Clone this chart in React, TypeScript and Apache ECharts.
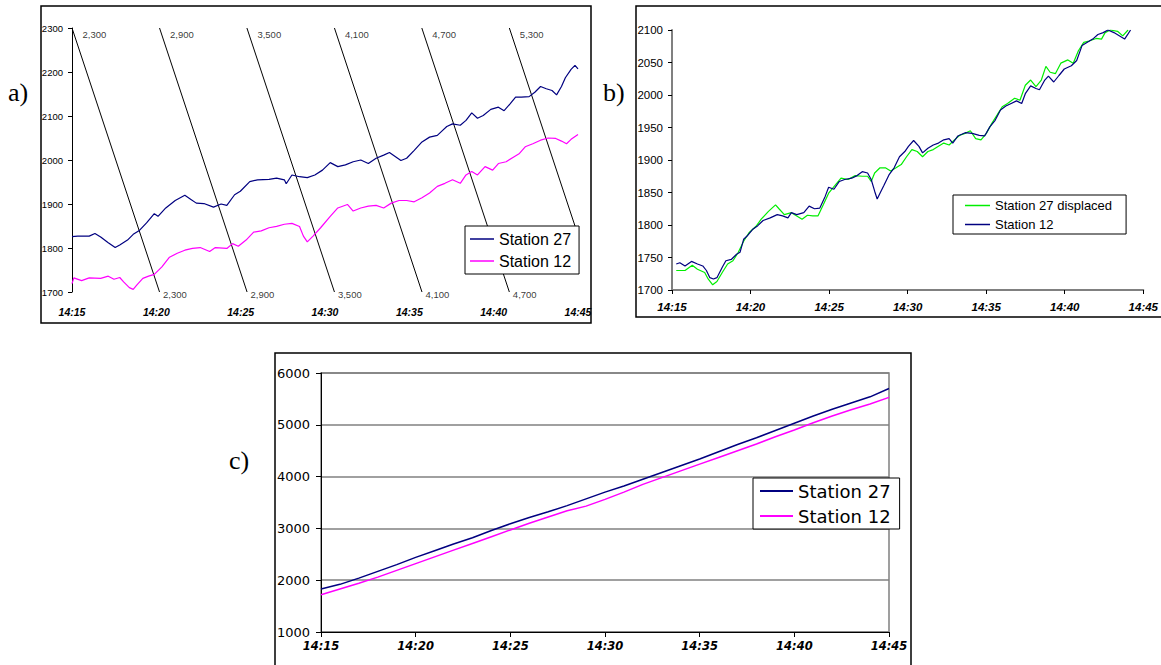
import React, { useEffect, useRef } from 'react';
import * as echarts from 'echarts';

// ---- Panel a: raw values (minutes after 14:15, value) ----
const A_STATION27: [number, number][] = [
  [0, 1826], [0.34, 1827], [1.02, 1827], [1.36, 1833], [1.7, 1825], [2.15, 1812], [2.56, 1801], [2.83, 1807],
  [3.29, 1818], [3.63, 1831], [3.97, 1839], [4.42, 1857], [4.88, 1878], [5.1, 1872], [5.56, 1891], [6.12, 1908],
  [6.69, 1920], [7.03, 1911], [7.37, 1902], [7.82, 1901], [8.39, 1893], [8.84, 1900], [9.18, 1897], [9.64, 1921],
  [9.98, 1929], [10.54, 1951], [11.0, 1955], [11.68, 1956], [12.13, 1959], [12.59, 1955], [12.7, 1946], [13.04, 1966],
  [13.49, 1962], [13.95, 1960], [14.4, 1966], [14.85, 1977], [15.31, 1994], [15.76, 1985], [16.21, 1989], [16.67, 1996],
  [17.12, 2000], [17.57, 1992], [18.03, 2004], [18.48, 2011], [18.82, 2017], [19.16, 2008], [19.5, 1999], [19.84, 2004],
  [20.29, 2022], [20.75, 2041], [21.2, 2052], [21.66, 2056], [21.88, 2064], [22.22, 2076], [22.56, 2082], [23.02, 2079],
  [23.36, 2090], [23.7, 2107], [24.04, 2095], [24.38, 2101], [24.83, 2115], [25.28, 2120], [25.62, 2112], [25.96, 2127],
  [26.3, 2143], [26.64, 2143], [27.1, 2144], [27.44, 2154], [27.78, 2167], [28.12, 2162], [28.46, 2158], [28.73, 2148],
  [29.02, 2167], [29.25, 2187], [29.59, 2206], [29.82, 2215], [30, 2207],
];
const A_STATION12: [number, number][] = [
  [0, 1719], [0.11, 1732], [0.57, 1726], [1.02, 1732], [1.7, 1731], [2.15, 1736], [2.49, 1729], [2.83, 1733],
  [3.06, 1723], [3.4, 1710], [3.63, 1706], [3.85, 1716], [4.2, 1731], [4.54, 1736], [4.88, 1740], [5.33, 1757],
  [5.78, 1779], [6.24, 1788], [6.69, 1795], [7.14, 1799], [7.6, 1801], [8.16, 1792], [8.5, 1801], [9.18, 1799],
  [9.52, 1810], [9.86, 1804], [10.32, 1818], [10.77, 1836], [11.22, 1839], [11.68, 1846], [12.13, 1849], [12.59, 1854],
  [13.04, 1856], [13.49, 1849], [13.72, 1827], [13.95, 1814], [14.29, 1827], [14.74, 1846], [15.31, 1872], [15.76, 1891],
  [16.33, 1899], [16.67, 1884], [17.12, 1891], [17.57, 1895], [18.03, 1897], [18.48, 1891], [18.93, 1902], [19.39, 1908],
  [19.84, 1908], [20.29, 1905], [20.75, 1914], [21.2, 1925], [21.66, 1940], [22.11, 1947], [22.56, 1955], [23.02, 1947],
  [23.36, 1966], [23.7, 1974], [24.04, 1966], [24.49, 1985], [24.94, 1977], [25.28, 1992], [25.74, 1996], [26.19, 2007],
  [26.53, 2015], [26.87, 2030], [27.32, 2037], [27.78, 2045], [28.23, 2050], [28.68, 2049], [29.02, 2043], [29.32, 2037],
  [29.59, 2047], [30, 2058],
];
// diagonal reference lines (start minute at 2300, run in minutes down to 1700)
const DIAG_START = [0, 5.19, 10.37, 15.56, 20.74, 25.93];
const DIAG_RUN = 5.19;
const DIAG_LABELS = ['2,300', '2,900', '3,500', '4,100', '4,700', '5,300'];

// ---- Panel b ----
const B_STATION27_DISPLACED: [number, number][] = [
  [0.27, 1730], [0.83, 1730], [1.29, 1738], [1.62, 1732], [2.08, 1727], [2.3, 1717], [2.59, 1708], [2.86, 1713],
  [3.2, 1727], [3.54, 1740], [3.88, 1745], [4.22, 1758], [4.56, 1775], [4.9, 1788], [5.35, 1798], [5.68, 1809],
  [6.14, 1821], [6.59, 1831], [6.81, 1825], [7.15, 1816], [7.6, 1819], [7.94, 1814], [8.28, 1809], [8.62, 1815],
  [8.96, 1814], [9.29, 1814], [9.63, 1831], [9.97, 1849], [10.31, 1859], [10.76, 1872], [11.21, 1870], [11.66, 1876],
  [12.11, 1875], [12.45, 1875], [12.68, 1867], [12.9, 1880], [13.24, 1888], [13.58, 1888], [13.92, 1883], [14.26, 1888],
  [14.59, 1893], [14.93, 1905], [15.27, 1916], [15.61, 1913], [15.95, 1905], [16.29, 1913], [16.63, 1916], [16.96, 1921],
  [17.3, 1926], [17.64, 1923], [17.98, 1931], [18.32, 1938], [18.66, 1941], [18.99, 1945], [19.33, 1933], [19.67, 1931],
  [20.01, 1941], [20.35, 1956], [20.69, 1969], [21.02, 1982], [21.36, 1987], [21.81, 1995], [22.15, 1992], [22.49, 2015],
  [22.83, 2023], [23.17, 2013], [23.51, 2023], [23.8, 2044], [24.07, 2035], [24.41, 2033], [24.75, 2049], [25.2, 2054],
  [25.54, 2049], [25.87, 2068], [26.21, 2081], [26.55, 2083], [27.0, 2087], [27.34, 2086], [27.57, 2096], [27.9, 2100],
  [28.36, 2098], [28.69, 2091], [29.03, 2100],
];
const B_STATION12: [number, number][] = [
  [0.27, 1740], [0.5, 1742], [0.83, 1737], [1.24, 1744], [1.62, 1740], [1.96, 1737], [2.19, 1730], [2.41, 1719],
  [2.64, 1717], [2.86, 1719], [3.2, 1735], [3.43, 1745], [3.77, 1747], [4.11, 1755], [4.33, 1758], [4.56, 1778],
  [4.78, 1783], [5.12, 1793], [5.46, 1799], [5.8, 1807], [6.25, 1811], [6.7, 1816], [7.04, 1814], [7.38, 1811],
  [7.6, 1819], [7.94, 1816], [8.39, 1819], [8.73, 1829], [9.07, 1825], [9.41, 1826], [9.75, 1844], [9.97, 1858],
  [10.31, 1855], [10.65, 1867], [10.99, 1870], [11.44, 1872], [11.78, 1876], [12.11, 1882], [12.45, 1880], [12.68, 1870],
  [12.9, 1852], [13.06, 1840], [13.24, 1849], [13.47, 1860], [13.81, 1877], [14.14, 1888], [14.48, 1905], [14.82, 1913],
  [15.05, 1921], [15.38, 1930], [15.72, 1921], [15.95, 1911], [16.29, 1918], [16.63, 1923], [16.96, 1926], [17.3, 1931],
  [17.64, 1933], [17.87, 1926], [18.2, 1937], [18.66, 1942], [19.11, 1941], [19.56, 1938], [19.9, 1937], [20.23, 1951],
  [20.57, 1961], [20.91, 1977], [21.25, 1983], [21.59, 1987], [21.93, 1991], [22.26, 1987], [22.49, 2002], [22.83, 2014],
  [23.17, 2010], [23.39, 2008], [23.73, 2023], [23.96, 2029], [24.3, 2020], [24.63, 2030], [24.97, 2040], [25.42, 2045],
  [25.76, 2053], [26.1, 2076], [26.44, 2081], [26.78, 2086], [27.11, 2093], [27.45, 2096], [27.75, 2100], [28.13, 2096],
  [28.47, 2091], [28.81, 2086], [29.03, 2094], [29.19, 2100],
];

// ---- Panel c ----
const C_STATION27: [number, number][] = [
  [0, 1830], [1, 1920], [2, 2040], [3, 2170], [4, 2300], [5, 2440], [6, 2570], [7, 2700], [8, 2820], [9, 2960],
  [10, 3090], [11, 3210], [12, 3320], [13, 3440], [14, 3570], [15, 3700], [16, 3820], [17, 3950], [18, 4080], [19, 4210],
  [20, 4340], [21, 4480], [22, 4620], [23, 4750], [24, 4890], [25, 5030], [26, 5170], [27, 5300], [28, 5420], [29, 5540],
  [30, 5700],
];
const C_STATION12: [number, number][] = [
  [0, 1720], [1, 1830], [2, 1940], [3, 2060], [4, 2190], [5, 2320], [6, 2450], [7, 2580], [8, 2710], [9, 2840],
  [10, 2970], [11, 3100], [12, 3220], [13, 3340], [14, 3430], [15, 3560], [16, 3700], [17, 3850], [18, 3980], [19, 4110],
  [20, 4240], [21, 4370], [22, 4500], [23, 4630], [24, 4770], [25, 4900], [26, 5040], [27, 5170], [28, 5290], [29, 5400],
  [30, 5530],
];

const NAVY = '#000080';
const MAGENTA = '#ff00ff';
const GREEN = '#00ee00';
const SANS = '"Liberation Sans", Arial, sans-serif';
const WIDE = '"DejaVu Sans", sans-serif';

const timeFmt = (v: number) => '14:' + String(15 + v);
const plainFmt = (v: number) => String(v);
const legendFmt = (n: string) => n.split('|')[1];

export default function App() {
  const ref = useRef<HTMLDivElement>(null);
  useEffect(() => {
    document.body.style.margin = '0';
    const chart = echarts.init(ref.current!, undefined, { renderer: 'svg' });
    const diagSeries = DIAG_START.map((t) => ({
      type: 'line', xAxisIndex: 0, yAxisIndex: 0, silent: true, symbol: 'none', z: 1,
      data: [[t, 2300], [t + DIAG_RUN, 1700]],
      lineStyle: { color: '#000', width: 1 },
    }));
    const labelBase = { show: true, fontSize: 9.5, fontFamily: SANS, color: '#000', formatter: (p: any) => p.value[2] };
    const legendBase = {
      orient: 'vertical', icon: 'rect', formatter: legendFmt,
      borderColor: '#000', borderWidth: 1, backgroundColor: '#fff', borderRadius: 0,
    };
    const option: any = {
      animation: false,
      backgroundColor: '#fff',
      graphic: [
        { type: 'rect', silent: true, shape: { x: 41, y: 6, width: 550, height: 317 }, style: { fill: 'none', stroke: '#000', lineWidth: 1.5 } },
        { type: 'rect', silent: true, shape: { x: 636, y: 6, width: 600, height: 311 }, style: { fill: 'none', stroke: '#000', lineWidth: 1.5 } },
        { type: 'rect', silent: true, shape: { x: 275, y: 353, width: 636, height: 400 }, style: { fill: 'none', stroke: '#000', lineWidth: 1.5 } },
        { type: 'text', x: 8, y: 92, style: { text: 'a)', fontSize: 26, fontFamily: '"Liberation Serif", serif', fill: '#000', verticalAlign: 'middle' } },
        { type: 'text', x: 603, y: 92, style: { text: 'b)', fontSize: 26, fontFamily: '"Liberation Serif", serif', fill: '#000', verticalAlign: 'middle' } },
        { type: 'text', x: 229, y: 460, style: { text: 'c)', fontSize: 26, fontFamily: '"Liberation Serif", serif', fill: '#000', verticalAlign: 'middle' } },
      ],
      grid: [
        { left: 72, top: 28, width: 506, height: 264 },
        { left: 672, top: 30, width: 476, height: 260 },
        { left: 321, top: 373, width: 568, height: 259, show: true, borderColor: '#808080', borderWidth: 1.5, backgroundColor: 'transparent' },
      ],
      xAxis: [
        {
          gridIndex: 0, type: 'value', min: 0, max: 30, interval: 5,
          axisLine: { show: false }, axisTick: { show: false }, splitLine: { show: false },
          axisLabel: { formatter: timeFmt, fontSize: 10.5, fontStyle: 'italic', fontWeight: 'bold', fontFamily: SANS, color: '#000', margin: 14 },
        },
        {
          gridIndex: 1, type: 'value', min: 0, max: 30, interval: 5,
          axisLine: { show: true, lineStyle: { color: '#808080', width: 2 } },
          axisTick: { show: true, length: 4, lineStyle: { color: '#000' } }, splitLine: { show: false },
          axisLabel: { formatter: timeFmt, fontSize: 11.5, fontStyle: 'italic', fontWeight: 'bold', fontFamily: SANS, color: '#000', margin: 11 },
        },
        {
          gridIndex: 2, type: 'value', min: 0, max: 30, interval: 5,
          axisLine: { show: true, lineStyle: { color: '#000', width: 1 } },
          axisTick: { show: true, length: 5, lineStyle: { color: '#000' } }, splitLine: { show: false },
          axisLabel: { formatter: timeFmt, fontSize: 11.5, fontStyle: 'italic', fontWeight: 'bold', fontFamily: WIDE, color: '#000', margin: 8 },
        },
      ],
      yAxis: [
        {
          gridIndex: 0, type: 'value', min: 1700, max: 2300, interval: 100,
          axisLine: { show: true, lineStyle: { color: '#000', width: 1 } },
          axisTick: { show: true, length: 4, lineStyle: { color: '#000' } }, splitLine: { show: false },
          axisLabel: { formatter: plainFmt, fontSize: 9.5, fontFamily: SANS, color: '#000', margin: 9 },
        },
        {
          gridIndex: 1, type: 'value', min: 1700, max: 2100, interval: 50,
          axisLine: { show: true, lineStyle: { color: '#808080', width: 2 } },
          axisTick: { show: true, length: 4, lineStyle: { color: '#000' } }, splitLine: { show: false },
          axisLabel: { formatter: plainFmt, fontSize: 11.5, fontFamily: SANS, color: '#000', margin: 9 },
        },
        {
          gridIndex: 2, type: 'value', min: 1000, max: 6000, interval: 1000,
          axisLine: { show: true, lineStyle: { color: '#000', width: 1 } },
          axisTick: { show: true, length: 5, lineStyle: { color: '#000' } },
          splitLine: { show: true, lineStyle: { color: '#808080', width: 1.5 } },
          axisLabel: { formatter: plainFmt, fontSize: 13, fontFamily: WIDE, color: '#000', margin: 11 },
        },
      ],
      legend: [
        {
          ...legendBase, data: ['a|Station 27', 'a|Station 12'], left: 465, top: 226,
          padding: [5, 8, 5, 5], itemGap: 6, itemWidth: 24, itemHeight: 1.5,
          textStyle: { fontSize: 16, lineHeight: 16, fontFamily: SANS, color: '#000' },
        },
        {
          ...legendBase, data: ['b|Station 27 displaced', 'b|Station 12'], left: 953, top: 195,
          padding: [4, 14, 3, 12], itemGap: 6, itemWidth: 25, itemHeight: 1.5,
          textStyle: { fontSize: 13, lineHeight: 13, fontFamily: SANS, color: '#000' },
        },
        {
          ...legendBase, data: ['c|Station 27', 'c|Station 12'], left: 753, top: 478,
          padding: [4, 9, 4, 7], itemGap: 7, itemWidth: 33, itemHeight: 2,
          textStyle: { fontSize: 18, lineHeight: 18, fontFamily: WIDE, color: '#000' },
        },
      ],
      series: [
        ...diagSeries,
        {
          type: 'scatter', xAxisIndex: 0, yAxisIndex: 0, silent: true, symbolSize: 1, itemStyle: { color: 'transparent' },
          data: DIAG_START.map((t, i) => [t, 2300, DIAG_LABELS[i]]),
          label: { ...labelBase, position: [11, 2] },
        },
        {
          type: 'scatter', xAxisIndex: 0, yAxisIndex: 0, silent: true, symbolSize: 1, itemStyle: { color: 'transparent' },
          data: DIAG_START.map((t, i) => [t + DIAG_RUN, 1700, DIAG_LABELS[i]]).filter((d) => (d[0] as number) <= 30),
          label: { ...labelBase, position: [4, -2] },
        },
        { name: 'a|Station 27', type: 'line', xAxisIndex: 0, yAxisIndex: 0, data: A_STATION27, symbol: 'none', z: 3, lineStyle: { color: NAVY, width: 1.2 }, itemStyle: { color: NAVY } },
        { name: 'a|Station 12', type: 'line', xAxisIndex: 0, yAxisIndex: 0, data: A_STATION12, symbol: 'none', z: 3, lineStyle: { color: MAGENTA, width: 1.2 }, itemStyle: { color: MAGENTA } },
        { name: 'b|Station 27 displaced', type: 'line', xAxisIndex: 1, yAxisIndex: 1, data: B_STATION27_DISPLACED, symbol: 'none', z: 3, lineStyle: { color: GREEN, width: 1.2 }, itemStyle: { color: GREEN } },
        { name: 'b|Station 12', type: 'line', xAxisIndex: 1, yAxisIndex: 1, data: B_STATION12, symbol: 'none', z: 3, lineStyle: { color: NAVY, width: 1.2 }, itemStyle: { color: NAVY } },
        { name: 'c|Station 27', type: 'line', xAxisIndex: 2, yAxisIndex: 2, data: C_STATION27, symbol: 'none', z: 3, lineStyle: { color: NAVY, width: 1.5 }, itemStyle: { color: NAVY } },
        { name: 'c|Station 12', type: 'line', xAxisIndex: 2, yAxisIndex: 2, data: C_STATION12, symbol: 'none', z: 3, lineStyle: { color: MAGENTA, width: 1.5 }, itemStyle: { color: MAGENTA } },
      ],
    };
    chart.setOption(option);
    return () => chart.dispose();
  }, []);
  return <div ref={ref} style={{ width: 1161, height: 665 }} />;
}
